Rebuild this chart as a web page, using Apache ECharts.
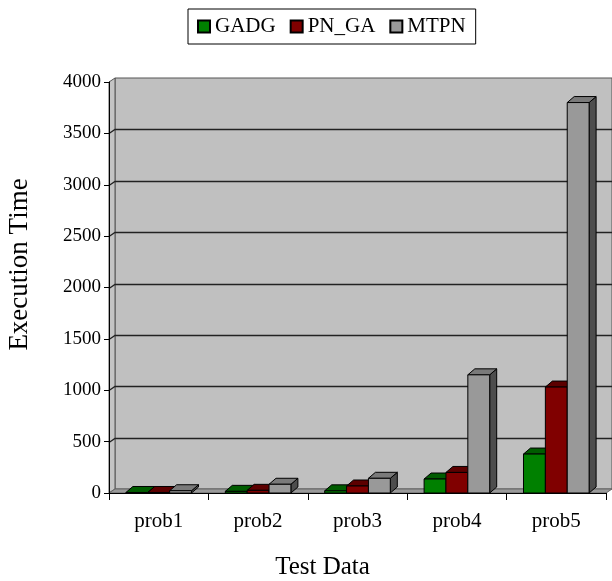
<!DOCTYPE html>
<html>
<head>
<meta charset="utf-8">
<script src="https://cdn.jsdelivr.net/npm/echarts@6/dist/echarts.min.js"></script>
<style>html,body{margin:0;padding:0;background:#fff}#c{width:612px;height:581px}</style>
</head>
<body>
<div id="c"></div>
<script>
var categories = ['prob1', 'prob2', 'prob3', 'prob4', 'prob5'];
var seriesNames = ['GADG', 'PN_GA', 'MTPN'];
var GADG = [5, 16, 21, 136, 379];
var PN_GA = [5, 26, 68, 200, 1031];
var MTPN = [22, 85, 143, 1150, 3800];
var yTicks = [0, 500, 1000, 1500, 2000, 2500, 3000, 3500, 4000];

var FONT = "'Liberation Serif', 'Times New Roman', serif";
var seriesValues = [GADG, PN_GA, MTPN];
var faceColors = [
  { front: '#008000', top: '#005c00', side: '#003d00' },
  { front: '#800000', top: '#5c0000', side: '#3d0000' },
  { front: '#999999', top: '#7a7a7a', side: '#4d4d4d' }
];
var WALL_DX = 6, WALL_DY = -4;
var BAR_DX = 7, BAR_DY = -6;
var BAR_FRAC = 0.22;

function wallRender(params, api) {
  var cs = params.coordSys;
  var x = cs.x, y = cs.y, w = cs.width, h = cs.height;
  var ch = [];
  ch.push({ type: 'polygon', shape: { points: [[x + WALL_DX, y + WALL_DY], [x + w + WALL_DX, y + WALL_DY], [x + w + WALL_DX, y + h + WALL_DY], [x + WALL_DX, y + h + WALL_DY]] },
    style: { fill: '#c0c0c0', stroke: '#555', lineWidth: 1 } });
  ch.push({ type: 'polygon', shape: { points: [[x, y], [x + WALL_DX, y + WALL_DY], [x + WALL_DX, y + h + WALL_DY], [x, y + h]] },
    style: { fill: '#c4c4c4', stroke: '#555', lineWidth: 1 } });
  ch.push({ type: 'polygon', shape: { points: [[x, y + h], [x + w, y + h], [x + w + WALL_DX, y + h + WALL_DY], [x + WALL_DX, y + h + WALL_DY]] },
    style: { fill: '#9a9a9a', stroke: '#666', lineWidth: 1 } });
  for (var i = 1; i < yTicks.length - 1; i++) {
    var p = api.coord([0, yTicks[i]]);
    var yy = Math.round(p[1]) + 0.5;
    ch.push({ type: 'polyline', shape: { points: [[x, yy], [x + WALL_DX, yy + WALL_DY], [x + w + WALL_DX, yy + WALL_DY]] },
      style: { fill: null, stroke: '#222', lineWidth: 1.3 } });
  }
  return { type: 'group', children: ch };
}

function makeBarRender(idx) {
  var col = faceColors[idx];
  return function (params, api) {
    var cat = api.value(0), val = api.value(1);
    var base = api.coord([cat, 0]);
    var top = api.coord([cat, val]);
    var band = api.size([1, 0])[0];
    var bw = band * BAR_FRAC;
    var x0 = base[0] - 1.5 * bw + idx * bw;
    var x1 = x0 + bw;
    var yt = top[1], yb = base[1];
    var st = { stroke: '#000', lineWidth: 1 };
    return { type: 'group', children: [
      { type: 'polygon', shape: { points: [[x1, yt], [x1 + BAR_DX, yt + BAR_DY], [x1 + BAR_DX, yb + BAR_DY], [x1, yb]] },
        style: Object.assign({ fill: col.side }, st) },
      { type: 'polygon', shape: { points: [[x0, yt], [x0 + BAR_DX, yt + BAR_DY], [x1 + BAR_DX, yt + BAR_DY], [x1, yt]] },
        style: Object.assign({ fill: col.top }, st) },
      { type: 'rect', shape: { x: x0, y: yt, width: bw, height: yb - yt },
        style: Object.assign({ fill: col.front }, st) }
    ] };
  };
}

var series = [{
  type: 'custom', name: 'walls', coordinateSystem: 'cartesian2d', silent: true, z: 1,
  data: [[0, 0]], renderItem: wallRender
}];
for (var s = 0; s < seriesNames.length; s++) {
  series.push({
    type: 'custom', name: seriesNames[s], coordinateSystem: 'cartesian2d', z: 3,
    itemStyle: { color: faceColors[s].front, borderColor: '#000', borderWidth: 1 },
    data: seriesValues[s].map(function (v, i) { return [i, v]; }),
    renderItem: makeBarRender(s)
  });
}

var chart = echarts.init(document.getElementById('c'), null, { renderer: 'canvas' });
chart.setOption({
  animation: false,
  backgroundColor: '#ffffff',
  legend: {
    data: seriesNames.map(function (n) { return { name: n, icon: 'rect' }; }),
    left: 188, top: 9,
    padding: [7, 10, 7, 9],
    borderColor: '#000', borderWidth: 1,
    itemWidth: 12, itemHeight: 12, itemGap: 14,
    textStyle: { fontFamily: FONT, fontSize: 21, color: '#000' }
  },
  grid: { left: 109, right: 6, top: 82, bottom: 88, containLabel: false, outerBoundsMode: 'none' },
  xAxis: {
    type: 'category', data: categories, boundaryGap: true, z: 10,
    axisLine: { show: true, lineStyle: { color: '#000', width: 1 } },
    axisTick: { show: true, length: 7, lineStyle: { color: '#000' } },
    axisLabel: { fontFamily: FONT, fontSize: 21, color: '#000', margin: 18 },
    name: 'Test Data', nameLocation: 'middle', nameGap: 62,
    nameTextStyle: { fontFamily: FONT, fontSize: 25, color: '#000', padding: [0, 70, 0, 0] }
  },
  yAxis: {
    type: 'value', min: 0, max: 4000, interval: 500, z: 10,
    axisLine: { show: true, lineStyle: { color: '#000', width: 1 } },
    axisTick: { show: true, length: 5, lineStyle: { color: '#000' } },
    splitLine: { show: false },
    axisLabel: { fontFamily: FONT, fontSize: 19, color: '#000', margin: 8, formatter: function (v) { return String(v); } },
    name: 'Execution Time', nameLocation: 'middle', nameGap: 76, nameRotate: 90,
    nameTextStyle: { fontFamily: FONT, fontSize: 27, color: '#000', padding: [0, 0, 0, 46] }
  },
  series: series
});
</script>
</body>
</html>
